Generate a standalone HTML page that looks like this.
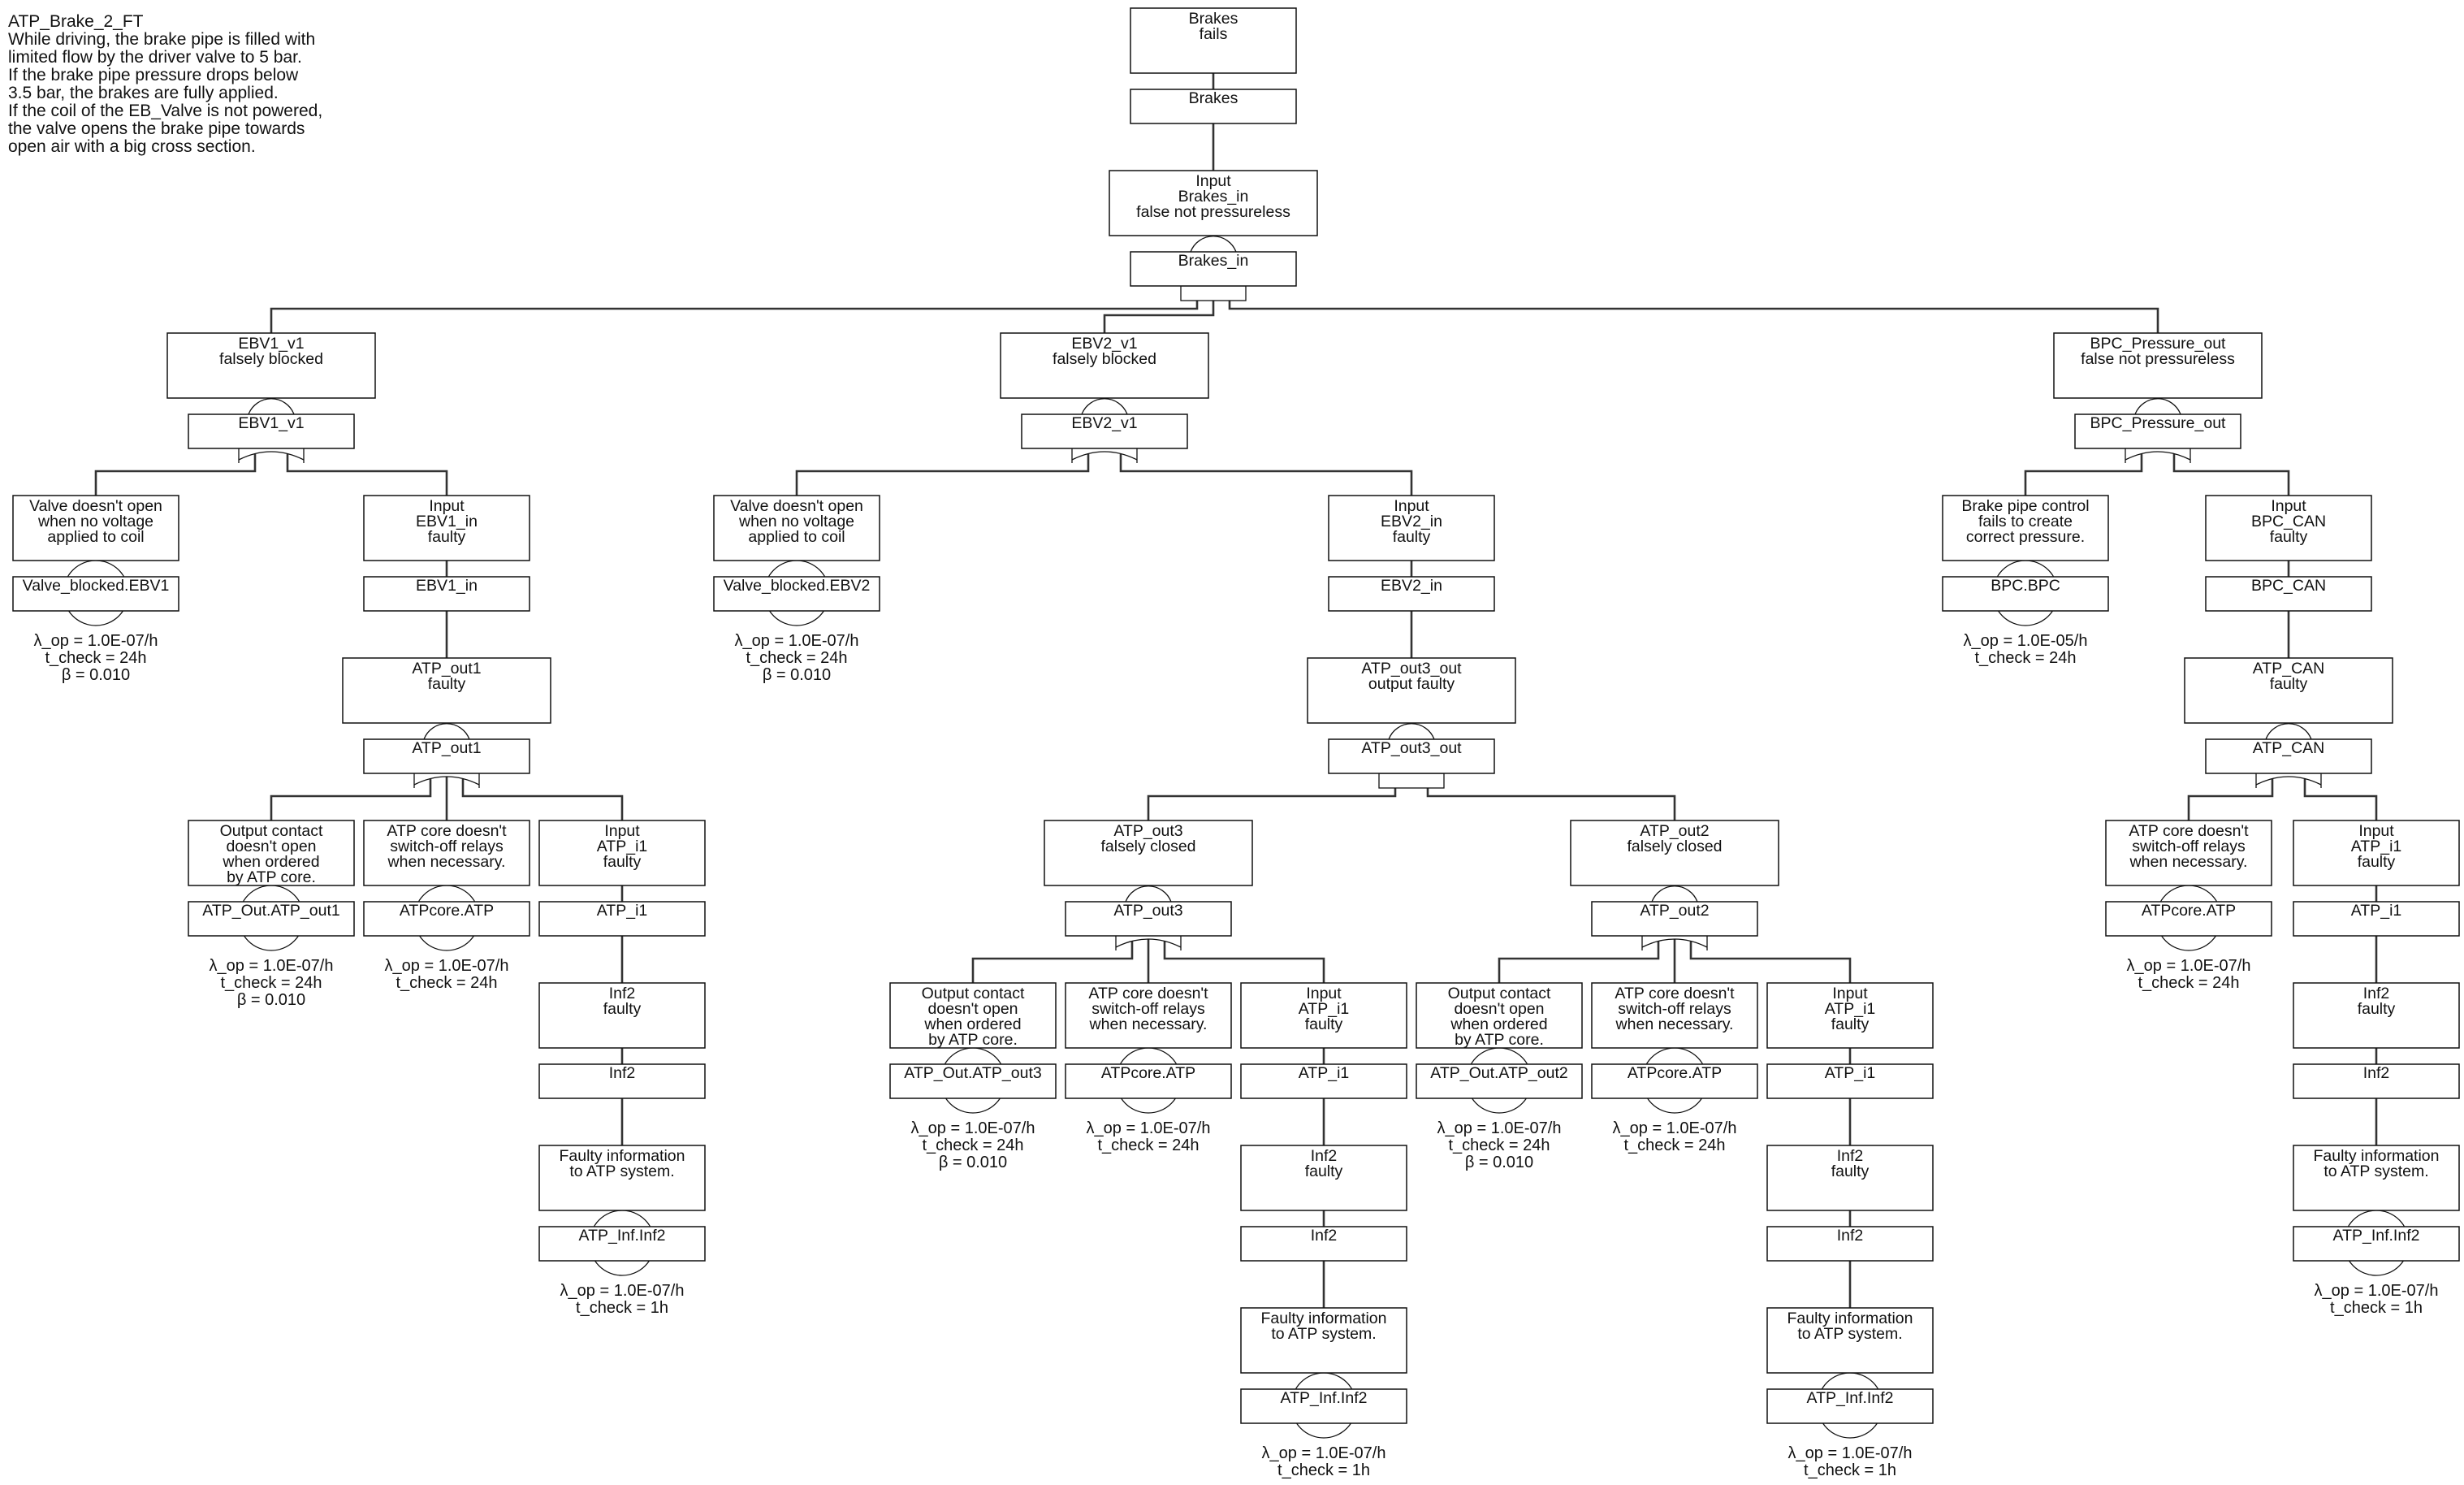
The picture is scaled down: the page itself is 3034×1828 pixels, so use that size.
<!DOCTYPE html>
<html><head><meta charset="utf-8"><style>
html,body{margin:0;padding:0;background:#fff;}
svg{display:block;}
text{font-family:"Liberation Sans",Arial,sans-serif;font-size:19.5px;fill:#111;}
.t text{font-size:21px;}
.p{font-size:20px;}
.c text{text-anchor:middle;}
.b{fill:#fff;stroke:#111;stroke-width:1.5;}
.l{fill:none;stroke:#333;stroke-width:2.6;}
.g{fill:none;stroke:#111;stroke-width:1.3;}
.ci{fill:#fff;stroke:#111;stroke-width:1.3;}
</style></head><body>
<svg width="3034" height="1828" viewBox="0 0 3034 1828" xmlns="http://www.w3.org/2000/svg">
<g class="t">
<text x="10" y="33">ATP_Brake_2_FT</text>
<text x="10" y="55">While driving, the brake pipe is filled with</text>
<text x="10" y="77">limited flow by the driver valve to 5 bar.</text>
<text x="10" y="99">If the brake pipe pressure drops below</text>
<text x="10" y="121">3.5 bar, the brakes are fully applied.</text>
<text x="10" y="143">If the coil of the EB_Valve is not powered,</text>
<text x="10" y="165">the valve opens the brake pipe towards</text>
<text x="10" y="187">open air with a big cross section.</text>
</g>

<g class="l">
<path d="M1494,90V110M1494,152V210"/>
<path d="M1474,370V380H334V410M1514,370V380H2657V410M1494,370V388H1360V410"/>
<path d="M314,559V580H118V610M354,559V580H550V610"/>
<path d="M1340,559V580H981V610M1380,559V580H1738V610"/>
<path d="M2637,559V580H2494V610M2677,559V580H2818V610"/>
<path d="M550,690V710M550,752V810M1738,690V710M1738,752V810M2818,690V710M2818,752V810"/>
<path d="M530,959V980H334V1010M570,959V980H766V1010M550,956V1010"/>
<path d="M1718,970V980H1414V1010M1758,970V980H2062V1010"/>
<path d="M2798,959V980H2695V1010M2838,959V980H2926V1010"/>
<path d="M766,1090V1110M766,1152V1210M2926,1090V1110M2926,1152V1210"/>
<path d="M1394,1159V1180H1198V1210M1434,1159V1180H1630V1210M1414,1156V1210"/>
<path d="M2042,1159V1180H1846V1210M2082,1159V1180H2278V1210M2062,1156V1210"/>
<path d="M766,1290V1310M766,1352V1410M1630,1290V1310M1630,1352V1410M2278,1290V1310M2278,1352V1410M2926,1290V1310M2926,1352V1410"/>
<path d="M1630,1490V1510M1630,1552V1610M2278,1490V1510M2278,1552V1610"/>
</g>

<g class="g">
<path d="M1466,310A30,30 0 0 1 1522,310"/>
<path d="M306,510A30,30 0 0 1 362,510"/>
<path d="M1332,510A30,30 0 0 1 1388,510"/>
<path d="M2629,510A30,30 0 0 1 2685,510"/>
<path d="M522,910A30,30 0 0 1 578,910"/>
<path d="M1710,910A30,30 0 0 1 1766,910"/>
<path d="M2790,910A30,30 0 0 1 2846,910"/>
<path d="M1386,1110A30,30 0 0 1 1442,1110"/>
<path d="M2034,1110A30,30 0 0 1 2090,1110"/>
</g>

<g class="ci">
<circle cx="118" cy="730" r="40"/>
<circle cx="981" cy="730" r="40"/>
<circle cx="2494" cy="730" r="40"/>
<circle cx="334" cy="1130" r="40"/>
<circle cx="550" cy="1130" r="40"/>
<circle cx="2695" cy="1130" r="40"/>
<circle cx="1198" cy="1330" r="40"/>
<circle cx="1414" cy="1330" r="40"/>
<circle cx="1846" cy="1330" r="40"/>
<circle cx="2062" cy="1330" r="40"/>
<circle cx="766" cy="1530" r="40"/>
<circle cx="2926" cy="1530" r="40"/>
<circle cx="1630" cy="1730" r="40"/>
<circle cx="2278" cy="1730" r="40"/>
</g>

<g class="g">
<rect x="1454" y="352" width="80" height="18"/>
<rect x="1698" y="952" width="80" height="18"/>
<path d="M294,552V570M374,552V570M294,566Q334,546 374,566"/>
<path d="M1320,552V570M1400,552V570M1320,566Q1360,546 1400,566"/>
<path d="M2617,552V570M2697,552V570M2617,566Q2657,546 2697,566"/>
<path d="M510,952V970M590,952V970M510,966Q550,946 590,966"/>
<path d="M2778,952V970M2858,952V970M2778,966Q2818,946 2858,966"/>
<path d="M1374,1152V1170M1454,1152V1170M1374,1166Q1414,1146 1454,1166"/>
<path d="M2022,1152V1170M2102,1152V1170M2022,1166Q2062,1146 2102,1166"/>
</g>

<g class="b">
<rect x="1392" y="10" width="204" height="80"/><rect x="1392" y="110" width="204" height="42"/>
<rect x="1366" y="210" width="256" height="80"/><rect x="1392" y="310" width="204" height="42"/>
<rect x="206" y="410" width="256" height="80"/><rect x="232" y="510" width="204" height="42"/>
<rect x="1232" y="410" width="256" height="80"/><rect x="1258" y="510" width="204" height="42"/>
<rect x="2529" y="410" width="256" height="80"/><rect x="2555" y="510" width="204" height="42"/>
<rect x="16" y="610" width="204" height="80"/><rect x="16" y="710" width="204" height="42"/>
<rect x="448" y="610" width="204" height="80"/><rect x="448" y="710" width="204" height="42"/>
<rect x="879" y="610" width="204" height="80"/><rect x="879" y="710" width="204" height="42"/>
<rect x="1636" y="610" width="204" height="80"/><rect x="1636" y="710" width="204" height="42"/>
<rect x="2392" y="610" width="204" height="80"/><rect x="2392" y="710" width="204" height="42"/>
<rect x="2716" y="610" width="204" height="80"/><rect x="2716" y="710" width="204" height="42"/>
<rect x="422" y="810" width="256" height="80"/><rect x="448" y="910" width="204" height="42"/>
<rect x="1610" y="810" width="256" height="80"/><rect x="1636" y="910" width="204" height="42"/>
<rect x="2690" y="810" width="256" height="80"/><rect x="2716" y="910" width="204" height="42"/>
<rect x="232" y="1010" width="204" height="80"/><rect x="232" y="1110" width="204" height="42"/>
<rect x="448" y="1010" width="204" height="80"/><rect x="448" y="1110" width="204" height="42"/>
<rect x="664" y="1010" width="204" height="80"/><rect x="664" y="1110" width="204" height="42"/>
<rect x="1286" y="1010" width="256" height="80"/><rect x="1312" y="1110" width="204" height="42"/>
<rect x="1934" y="1010" width="256" height="80"/><rect x="1960" y="1110" width="204" height="42"/>
<rect x="2593" y="1010" width="204" height="80"/><rect x="2593" y="1110" width="204" height="42"/>
<rect x="2824" y="1010" width="204" height="80"/><rect x="2824" y="1110" width="204" height="42"/>
<rect x="664" y="1210" width="204" height="80"/><rect x="664" y="1310" width="204" height="42"/>
<rect x="1096" y="1210" width="204" height="80"/><rect x="1096" y="1310" width="204" height="42"/>
<rect x="1312" y="1210" width="204" height="80"/><rect x="1312" y="1310" width="204" height="42"/>
<rect x="1528" y="1210" width="204" height="80"/><rect x="1528" y="1310" width="204" height="42"/>
<rect x="1744" y="1210" width="204" height="80"/><rect x="1744" y="1310" width="204" height="42"/>
<rect x="1960" y="1210" width="204" height="80"/><rect x="1960" y="1310" width="204" height="42"/>
<rect x="2176" y="1210" width="204" height="80"/><rect x="2176" y="1310" width="204" height="42"/>
<rect x="2824" y="1210" width="204" height="80"/><rect x="2824" y="1310" width="204" height="42"/>
<rect x="664" y="1410" width="204" height="80"/><rect x="664" y="1510" width="204" height="42"/>
<rect x="1528" y="1410" width="204" height="80"/><rect x="1528" y="1510" width="204" height="42"/>
<rect x="2176" y="1410" width="204" height="80"/><rect x="2176" y="1510" width="204" height="42"/>
<rect x="2824" y="1410" width="204" height="80"/><rect x="2824" y="1510" width="204" height="42"/>
<rect x="1528" y="1610" width="204" height="80"/><rect x="1528" y="1710" width="204" height="42"/>
<rect x="2176" y="1610" width="204" height="80"/><rect x="2176" y="1710" width="204" height="42"/>
</g>

<g class="c">
<text x="1494" y="29">Brakes</text><text x="1494" y="48">fails</text>
<text x="1494" y="127">Brakes</text>
<text x="1494" y="229">Input</text><text x="1494" y="248">Brakes_in</text><text x="1494" y="267">false not pressureless</text>
<text x="1494" y="327">Brakes_in</text>
<text x="334" y="429">EBV1_v1</text><text x="334" y="448">falsely blocked</text><text x="334" y="527">EBV1_v1</text>
<text x="1360" y="429">EBV2_v1</text><text x="1360" y="448">falsely blocked</text><text x="1360" y="527">EBV2_v1</text>
<text x="2657" y="429">BPC_Pressure_out</text><text x="2657" y="448">false not pressureless</text><text x="2657" y="527">BPC_Pressure_out</text>
<text x="118" y="629">Valve doesn't open</text><text x="118" y="648">when no voltage</text><text x="118" y="667">applied to coil</text>
<text x="118" y="727">Valve_blocked.EBV1</text>
<text class="p" x="118" y="795">λ_op = 1.0E-07/h</text><text class="p" x="118" y="816">t_check = 24h</text><text class="p" x="118" y="837">β = 0.010</text>
<text x="550" y="629">Input</text><text x="550" y="648">EBV1_in</text><text x="550" y="667">faulty</text><text x="550" y="727">EBV1_in</text>
<text x="981" y="629">Valve doesn't open</text><text x="981" y="648">when no voltage</text><text x="981" y="667">applied to coil</text>
<text x="981" y="727">Valve_blocked.EBV2</text>
<text class="p" x="981" y="795">λ_op = 1.0E-07/h</text><text class="p" x="981" y="816">t_check = 24h</text><text class="p" x="981" y="837">β = 0.010</text>
<text x="1738" y="629">Input</text><text x="1738" y="648">EBV2_in</text><text x="1738" y="667">faulty</text><text x="1738" y="727">EBV2_in</text>
<text x="2494" y="629">Brake pipe control</text><text x="2494" y="648">fails to create</text><text x="2494" y="667">correct pressure.</text>
<text x="2494" y="727">BPC.BPC</text>
<text class="p" x="2494" y="795">λ_op = 1.0E-05/h</text><text class="p" x="2494" y="816">t_check = 24h</text>
<text x="2818" y="629">Input</text><text x="2818" y="648">BPC_CAN</text><text x="2818" y="667">faulty</text><text x="2818" y="727">BPC_CAN</text>
<text x="550" y="829">ATP_out1</text><text x="550" y="848">faulty</text><text x="550" y="927">ATP_out1</text>
<text x="1738" y="829">ATP_out3_out</text><text x="1738" y="848">output faulty</text><text x="1738" y="927">ATP_out3_out</text>
<text x="2818" y="829">ATP_CAN</text><text x="2818" y="848">faulty</text><text x="2818" y="927">ATP_CAN</text>
<text x="334" y="1029">Output contact</text><text x="334" y="1048">doesn't open</text><text x="334" y="1067">when ordered</text><text x="334" y="1086">by ATP core.</text>
<text x="334" y="1127">ATP_Out.ATP_out1</text>
<text class="p" x="334" y="1195">λ_op = 1.0E-07/h</text><text class="p" x="334" y="1216">t_check = 24h</text><text class="p" x="334" y="1237">β = 0.010</text>
<text x="550" y="1029">ATP core doesn't</text><text x="550" y="1048">switch-off relays</text><text x="550" y="1067">when necessary.</text>
<text x="550" y="1127">ATPcore.ATP</text>
<text class="p" x="550" y="1195">λ_op = 1.0E-07/h</text><text class="p" x="550" y="1216">t_check = 24h</text>
<text x="766" y="1029">Input</text><text x="766" y="1048">ATP_i1</text><text x="766" y="1067">faulty</text><text x="766" y="1127">ATP_i1</text>
<text x="1414" y="1029">ATP_out3</text><text x="1414" y="1048">falsely closed</text><text x="1414" y="1127">ATP_out3</text>
<text x="2062" y="1029">ATP_out2</text><text x="2062" y="1048">falsely closed</text><text x="2062" y="1127">ATP_out2</text>
<text x="2695" y="1029">ATP core doesn't</text><text x="2695" y="1048">switch-off relays</text><text x="2695" y="1067">when necessary.</text>
<text x="2695" y="1127">ATPcore.ATP</text>
<text class="p" x="2695" y="1195">λ_op = 1.0E-07/h</text><text class="p" x="2695" y="1216">t_check = 24h</text>
<text x="2926" y="1029">Input</text><text x="2926" y="1048">ATP_i1</text><text x="2926" y="1067">faulty</text><text x="2926" y="1127">ATP_i1</text>
<text x="766" y="1229">Inf2</text><text x="766" y="1248">faulty</text><text x="766" y="1327">Inf2</text>
<text x="1198" y="1229">Output contact</text><text x="1198" y="1248">doesn't open</text><text x="1198" y="1267">when ordered</text><text x="1198" y="1286">by ATP core.</text>
<text x="1198" y="1327">ATP_Out.ATP_out3</text>
<text class="p" x="1198" y="1395">λ_op = 1.0E-07/h</text><text class="p" x="1198" y="1416">t_check = 24h</text><text class="p" x="1198" y="1437">β = 0.010</text>
<text x="1414" y="1229">ATP core doesn't</text><text x="1414" y="1248">switch-off relays</text><text x="1414" y="1267">when necessary.</text>
<text x="1414" y="1327">ATPcore.ATP</text>
<text class="p" x="1414" y="1395">λ_op = 1.0E-07/h</text><text class="p" x="1414" y="1416">t_check = 24h</text>
<text x="1630" y="1229">Input</text><text x="1630" y="1248">ATP_i1</text><text x="1630" y="1267">faulty</text><text x="1630" y="1327">ATP_i1</text>
<text x="1846" y="1229">Output contact</text><text x="1846" y="1248">doesn't open</text><text x="1846" y="1267">when ordered</text><text x="1846" y="1286">by ATP core.</text>
<text x="1846" y="1327">ATP_Out.ATP_out2</text>
<text class="p" x="1846" y="1395">λ_op = 1.0E-07/h</text><text class="p" x="1846" y="1416">t_check = 24h</text><text class="p" x="1846" y="1437">β = 0.010</text>
<text x="2062" y="1229">ATP core doesn't</text><text x="2062" y="1248">switch-off relays</text><text x="2062" y="1267">when necessary.</text>
<text x="2062" y="1327">ATPcore.ATP</text>
<text class="p" x="2062" y="1395">λ_op = 1.0E-07/h</text><text class="p" x="2062" y="1416">t_check = 24h</text>
<text x="2278" y="1229">Input</text><text x="2278" y="1248">ATP_i1</text><text x="2278" y="1267">faulty</text><text x="2278" y="1327">ATP_i1</text>
<text x="2926" y="1229">Inf2</text><text x="2926" y="1248">faulty</text><text x="2926" y="1327">Inf2</text>
<text x="766" y="1429">Faulty information</text><text x="766" y="1448">to ATP system.</text><text x="766" y="1527">ATP_Inf.Inf2</text>
<text class="p" x="766" y="1595">λ_op = 1.0E-07/h</text><text class="p" x="766" y="1616">t_check = 1h</text>
<text x="1630" y="1429">Inf2</text><text x="1630" y="1448">faulty</text><text x="1630" y="1527">Inf2</text>
<text x="2278" y="1429">Inf2</text><text x="2278" y="1448">faulty</text><text x="2278" y="1527">Inf2</text>
<text x="2926" y="1429">Faulty information</text><text x="2926" y="1448">to ATP system.</text><text x="2926" y="1527">ATP_Inf.Inf2</text>
<text class="p" x="2926" y="1595">λ_op = 1.0E-07/h</text><text class="p" x="2926" y="1616">t_check = 1h</text>
<text x="1630" y="1629">Faulty information</text><text x="1630" y="1648">to ATP system.</text><text x="1630" y="1727">ATP_Inf.Inf2</text>
<text class="p" x="1630" y="1795">λ_op = 1.0E-07/h</text><text class="p" x="1630" y="1816">t_check = 1h</text>
<text x="2278" y="1629">Faulty information</text><text x="2278" y="1648">to ATP system.</text><text x="2278" y="1727">ATP_Inf.Inf2</text>
<text class="p" x="2278" y="1795">λ_op = 1.0E-07/h</text><text class="p" x="2278" y="1816">t_check = 1h</text>
</g>
</svg>
</body></html>
